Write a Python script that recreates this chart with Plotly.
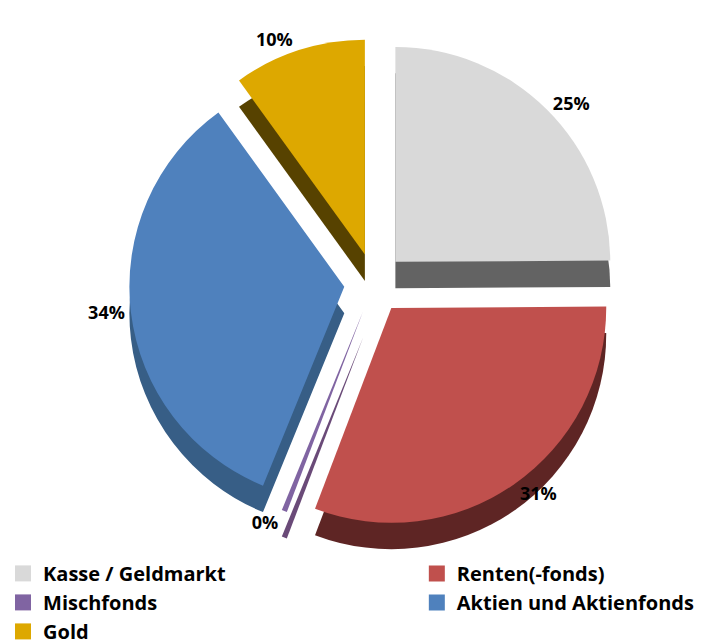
import plotly.graph_objects as go

categories = ["Kasse / Geldmarkt", "Renten(-fonds)", "Mischfonds", "Aktien und Aktienfonds", "Gold"]
values = [25, 31, 0.4, 34, 10]
label_text = ["25%", "31%", "0%", "34%", "10%"]
legend_group = ["legend", "legend2", "legend", "legend2", "legend"]

top_colors = ["#D9D9D9", "#C0504D", "#8064A2", "#4F81BD", "#DDA800"]
side_colors = ["#636363", "#5E2524", "#6A4A78", "#375E86", "#574200"]
pulls = [0.14, 0.14, 0.14, 0.14, 0.14]

fig = go.Figure()

# darker copy beneath, shifted down, to suggest the 3D depth
fig.add_trace(go.Pie(
    labels=categories, values=values, sort=False, direction="clockwise", rotation=0,
    marker=dict(colors=side_colors, line=dict(width=0)),
    pull=pulls, textinfo="none", showlegend=False, hoverinfo="skip",
    automargin=True,
    domain=dict(x=[0.08, 0.95], y=[0.150, 0.912]),
))

fig.add_trace(go.Pie(
    labels=categories, values=values, sort=False, direction="clockwise", rotation=0,
    marker=dict(colors=top_colors, line=dict(width=0)),
    pull=pulls, text=label_text, texttemplate="%{text}", textposition="outside",
    textfont=dict(family="Open Sans", size=18, color="#000000", weight="bold"),
    outsidetextfont=dict(family="Open Sans", size=18, color="#000000", weight="bold"),
    showlegend=False, automargin=True,
    domain=dict(x=[0.08, 0.95], y=[0.191, 0.953]),
))

# legend entries
for name, col, lg in zip(categories, top_colors, legend_group):
    fig.add_trace(go.Scatter(
        x=[None], y=[None], mode="markers", name=name, legend=lg,
        marker=dict(symbol="square", size=16, color=col),
    ))

legend_font = dict(family="Open Sans", size=20, color="#000000", weight="bold")
fig.update_layout(
    width=711, height=643,
    margin=dict(l=0, r=0, t=0, b=0, autoexpand=False),
    paper_bgcolor="white", plot_bgcolor="white",
    font=dict(family="Open Sans", size=20, color="#000000"),
    xaxis=dict(visible=False), yaxis=dict(visible=False),
    legend=dict(
        orientation="v", x=-0.007, y=0.151, xanchor="left", yanchor="top",
        font=legend_font, bgcolor="rgba(0,0,0,0)", tracegroupgap=0,
        itemwidth=30,
    ),
    legend2=dict(
        orientation="v", x=0.575, y=0.151, xanchor="left", yanchor="top",
        font=legend_font, bgcolor="rgba(0,0,0,0)", tracegroupgap=0,
        itemwidth=30,
    ),
)

fig.write_html("out.html")
